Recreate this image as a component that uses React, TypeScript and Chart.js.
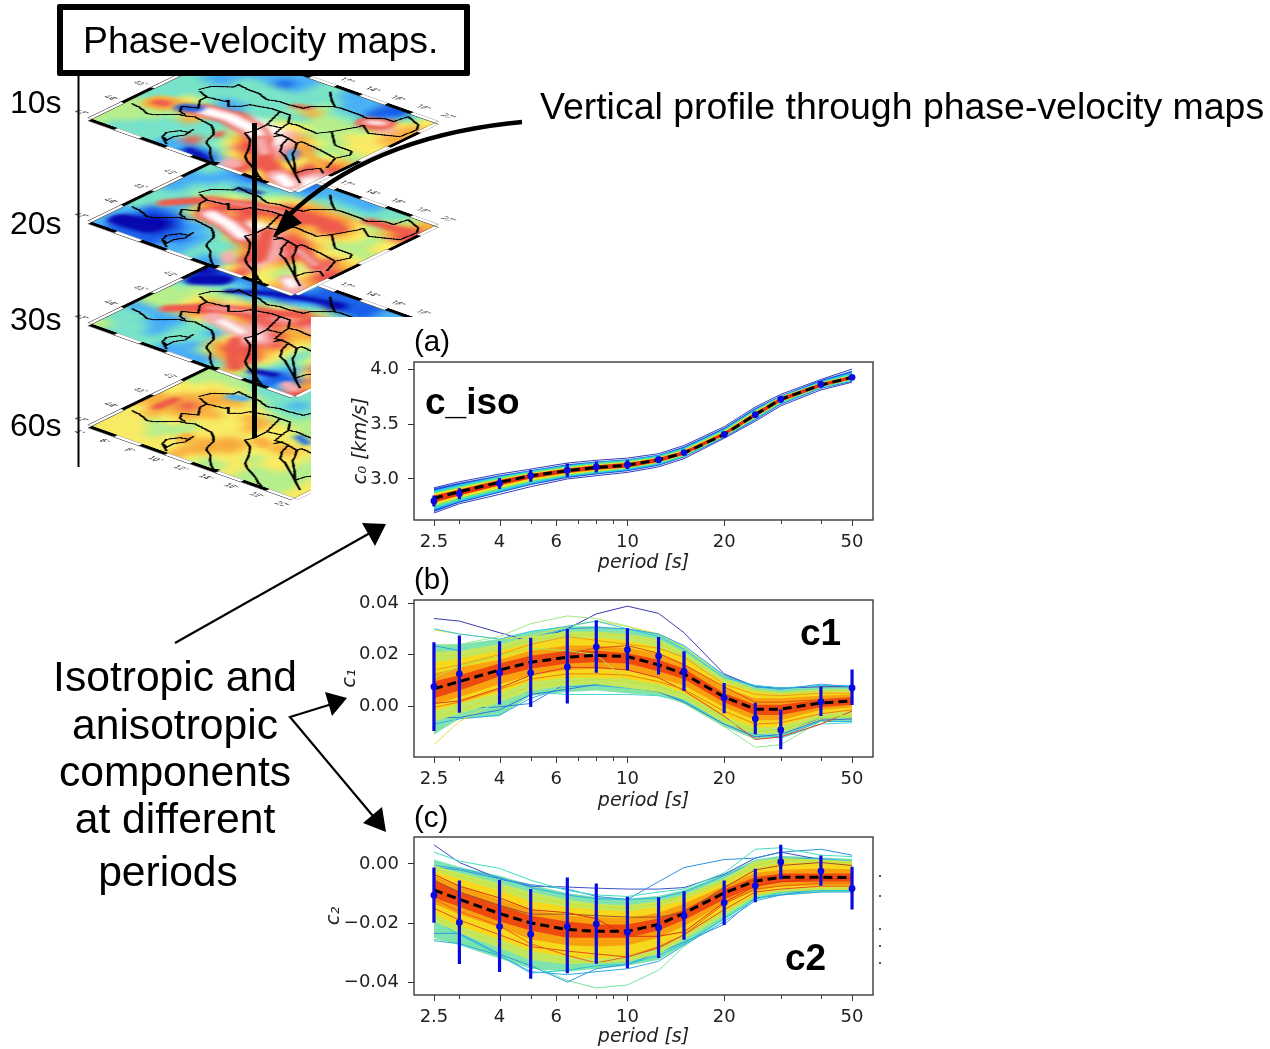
import React, { useEffect, useRef } from "react";
import { Chart, registerables } from "chart.js";
Chart.register(...registerables);

// ---------- dispersion data ----------
const PERIODS = [2.5, 3, 4, 5, 6.5, 8, 10, 12.5, 15, 20, 25, 30, 40, 50];
const PERIOD_TICKS = [2.5, 3, 4, 5, 6, 7, 8, 9, 10, 20, 30, 40, 50];
const PERIOD_LABELS = [2.5, 4, 6, 10, 20, 50];

const ISO_MEAN = [2.825, 2.885, 2.97, 3.03, 3.075, 3.105, 3.125, 3.175, 3.235, 3.405, 3.585, 3.725, 3.855, 3.925];
const ISO_DOTS = [2.8, 2.865, 2.96, 3.03, 3.08, 3.11, 3.13, 3.175, 3.24, 3.405, 3.585, 3.725, 3.86, 3.925];
const ISO_TOP = [2.85, 2.915, 3.01, 3.085, 3.14, 3.16, 3.17, 3.205, 3.26, 3.425, 3.61, 3.755, 3.88, 3.945];
const ISO_BOTTOM = [2.75, 2.815, 2.91, 2.975, 3.02, 3.06, 3.09, 3.145, 3.22, 3.385, 3.56, 3.695, 3.84, 3.905];
const ISO_BANDS = [
  { color: "#1f4fe0", up: [2.915, 2.965, 3.035, 3.08, 3.135, 3.16, 3.18, 3.22, 3.295, 3.465, 3.645, 3.76, 3.9, 3.985], lo: [2.7, 2.785, 2.875, 2.945, 3.01, 3.04, 3.07, 3.12, 3.195, 3.375, 3.535, 3.675, 3.82, 3.885] },
  { color: "#28c8e8", up: [2.895, 2.95, 3.025, 3.075, 3.125, 3.155, 3.175, 3.215, 3.285, 3.455, 3.635, 3.755, 3.89, 3.97], lo: [2.72, 2.795, 2.885, 2.955, 3.02, 3.05, 3.08, 3.13, 3.2, 3.38, 3.54, 3.68, 3.825, 3.89] },
  { color: "#60e890", up: [2.88, 2.935, 3.015, 3.065, 3.115, 3.145, 3.165, 3.205, 3.275, 3.445, 3.625, 3.75, 3.88, 3.955], lo: [2.74, 2.81, 2.9, 2.97, 3.03, 3.06, 3.09, 3.14, 3.205, 3.385, 3.55, 3.69, 3.83, 3.895] },
  { color: "#f0e020", up: [2.865, 2.92, 3.0, 3.055, 3.105, 3.135, 3.155, 3.195, 3.265, 3.435, 3.615, 3.745, 3.875, 3.945], lo: [2.76, 2.83, 2.915, 2.985, 3.04, 3.07, 3.1, 3.15, 3.215, 3.39, 3.56, 3.7, 3.84, 3.905] },
  { color: "#e83010", up: [2.85, 2.905, 2.99, 3.045, 3.095, 3.125, 3.145, 3.19, 3.255, 3.425, 3.605, 3.74, 3.87, 3.94], lo: [2.785, 2.85, 2.94, 3.005, 3.055, 3.085, 3.105, 3.155, 3.22, 3.395, 3.565, 3.705, 3.84, 3.91] },
];
const ISO_OUTER = [
  { color: "#3040b8", v: [2.69, 2.775, 2.86, 2.93, 3.0, 3.03, 3.06, 3.11, 3.185, 3.37, 3.525, 3.665, 3.81, 3.88] },
  { color: "#3040b8", v: [2.92, 2.975, 3.045, 3.09, 3.145, 3.17, 3.19, 3.23, 3.305, 3.475, 3.655, 3.77, 3.905, 4.0] },
];
const ISO_INNER: { color: string; v: number[] }[] = [];

const C1_MEAN = [0.0067, 0.0095, 0.014, 0.017, 0.019, 0.0197, 0.0192, 0.016, 0.0125, 0.0035, -0.0012, -0.0012, 0.0012, 0.002];
const C1_DOTS = [0.0075, 0.0125, 0.0129, 0.0129, 0.0152, 0.023, 0.0219, 0.0194, 0.0135, 0.0032, -0.0049, -0.0093, 0.0017, 0.007];
const C1_TOP = [0.0248, 0.0274, 0.0252, 0.0265, 0.0299, 0.0333, 0.0302, 0.0268, 0.0213, 0.009, 0.0013, -0.0013, 0.0075, 0.0142];
const C1_BOTTOM = [-0.0097, -0.0026, 0.0006, -0.0004, 0.001, 0.0129, 0.0139, 0.0123, 0.0058, -0.0028, -0.011, -0.0168, -0.0039, 0.0004];
const C1_BANDS = [
  { color: "#7fe3b0", up: [0.024, 0.024, 0.026, 0.029, 0.031, 0.031, 0.03, 0.028, 0.023, 0.012, 0.0082, 0.0072, 0.0078, 0.0078], lo: [-0.011, -0.005, -0.004, 0.004, 0.0055, 0.006, 0.005, 0.004, 0.001, -0.008, -0.013, -0.012, -0.006, -0.006] },
  { color: "#c3e860", up: [0.021, 0.0215, 0.024, 0.027, 0.029, 0.029, 0.028, 0.026, 0.021, 0.0105, 0.0065, 0.0055, 0.0065, 0.0065], lo: [-0.006, -0.003, 0.0015, 0.006, 0.008, 0.0085, 0.007, 0.0055, 0.0025, -0.0065, -0.011, -0.0105, -0.0045, -0.0045] },
  { color: "#f6d81c", up: [0.017, 0.0185, 0.0215, 0.0245, 0.0265, 0.0265, 0.0255, 0.023, 0.019, 0.009, 0.0055, 0.0045, 0.0055, 0.0055], lo: [-0.002, 0.001, 0.005, 0.0095, 0.011, 0.011, 0.0105, 0.0085, 0.005, -0.004, -0.0085, -0.008, -0.003, -0.002] },
  { color: "#f8a010", up: [0.0125, 0.015, 0.018, 0.0215, 0.0235, 0.0235, 0.0225, 0.0205, 0.0165, 0.007, 0.003, 0.003, 0.004, 0.0045], lo: [0.0005, 0.0035, 0.0085, 0.012, 0.014, 0.0145, 0.014, 0.011, 0.008, -0.0005, -0.0055, -0.0055, -0.0015, -0.0005] },
  { color: "#ee4a10", up: [0.0095, 0.012, 0.0165, 0.0195, 0.0215, 0.0215, 0.0205, 0.018, 0.0145, 0.005, 0.0005, 0.0005, 0.0025, 0.0035], lo: [0.003, 0.006, 0.0115, 0.0145, 0.0165, 0.017, 0.0165, 0.0135, 0.0105, 0.0015, -0.0035, -0.0035, -0.0005, 0.0005] },
];
const C1_OUTER = [
  { color: "#3a3ab0", v: [0.034, 0.033, 0.0285, 0.025, 0.03, 0.0358, 0.0388, 0.036, 0.0285, 0.0125, 0.0075, 0.007, 0.0075, 0.0075] },
  { color: "#e8e040", v: [0.0295, 0.028, 0.026, 0.027, 0.031, 0.033, 0.031, 0.028, 0.023, 0.011, 0.006, 0.005, 0.005, 0.005] },
  { color: "#a0e880", v: [0.023, 0.024, 0.027, 0.032, 0.035, 0.034, 0.031, 0.027, 0.022, 0.009, 0.004, 0.004, 0.005, 0.004] },
  { color: "#30c8e0", v: [0.03, 0.028, 0.026, 0.029, 0.031, 0.033, 0.03, 0.027, 0.022, 0.011, 0.008, 0.007, 0.008, 0.008] },
  { color: "#30b0e8", v: [-0.007, -0.005, -0.0035, 0.003, 0.0075, 0.008, 0.007, 0.006, 0.002, -0.006, -0.011, -0.012, -0.006, -0.006] },
  { color: "#3080d8", v: [-0.002, -0.001, -0.0003, 0.001, 0.009, 0.0095, 0.009, 0.007, 0.0035, -0.005, -0.01, -0.0095, -0.005, -0.005] },
  { color: "#e8e040", v: [-0.015, -0.006, 0.002, 0.006, 0.0085, 0.009, 0.008, 0.007, 0.004, -0.004, -0.009, -0.011, -0.005, -0.005] },
  { color: "#40d8d0", v: [0.002, 0.003, 0.004, 0.0055, 0.0045, 0.0045, 0.0045, 0.004, 0.002, -0.006, -0.011, -0.0125, -0.007, -0.0065] },
  { color: "#90e890", v: [-0.011, -0.004, 0.001, 0.005, 0.007, 0.0065, 0.006, 0.005, 0.001, -0.008, -0.016, -0.015, -0.006, -0.004] },
  { color: "#30a0e8", v: [0.0235, 0.0215, 0.0225, 0.0265, 0.03, 0.0305, 0.03, 0.028, 0.0235, 0.012, 0.0075, 0.0065, 0.0085, 0.0075] },
  { color: "#3078d8", v: [-0.0045, -0.0045, -0.0015, 0.0045, 0.0065, 0.0085, 0.0075, 0.0055, 0.0015, -0.007, -0.012, -0.011, -0.0055, -0.005] },
];
const C1_INNER = [
  { color: "#e04020", v: [0.001, 0.002, 0.007, 0.012, 0.015, 0.015, 0.014, 0.011, 0.006, -0.004, -0.013, -0.012, -0.007, -0.002] },
  { color: "#e8a020", v: [0.014, 0.016, 0.02, 0.024, 0.027, 0.0255, 0.024, 0.0225, 0.019, 0.0085, 0.0045, 0.004, 0.005, 0.005] },
  { color: "#c8e040", v: [0.0195, 0.0195, 0.022, 0.0255, 0.0275, 0.028, 0.0275, 0.0245, 0.0195, 0.01, 0.006, 0.005, 0.006, 0.006] },
  { color: "#e05018", v: [0.0045, 0.0085, 0.014, 0.0185, 0.0205, 0.0225, 0.0235, 0.0205, 0.016, 0.0075, 0.0015, 0.0015, 0.0025, 0.003] },
  { color: "#f08010", v: [-0.0005, 0.0015, 0.0065, 0.0105, 0.0125, 0.0125, 0.012, 0.0095, 0.0065, -0.002, -0.007, -0.0065, -0.003, -0.0015] },
  { color: "#a8e850", v: [0.011, 0.0155, 0.0195, 0.0225, 0.0215, 0.02, 0.0095, 0.0075, 0.0045, -0.005, -0.0095, -0.009, -0.0045, -0.004] },
  { color: "#c8e040", v: [-0.004, -0.0015, 0.0035, 0.0075, 0.0095, 0.0105, 0.0095, 0.0075, 0.0035, -0.0055, -0.01, -0.0095, -0.004, -0.0035] },
];

const C2_MEAN = [-0.0088, -0.012, -0.0168, -0.02, -0.0222, -0.0228, -0.0228, -0.0205, -0.0167, -0.0098, -0.0058, -0.0045, -0.0045, -0.0046];
const C2_DOTS = [-0.0106, -0.0198, -0.0212, -0.0238, -0.0212, -0.0203, -0.0231, -0.0216, -0.0175, -0.0131, -0.0074, 0.0007, -0.0024, -0.0083];
const C2_TOP = [-0.0012, -0.0056, -0.0054, -0.0085, -0.0046, -0.0066, -0.0111, -0.0113, -0.0092, -0.0056, -0.0016, 0.0065, 0.0029, -0.0009];
const C2_BOTTOM = [-0.0199, -0.0339, -0.0366, -0.0389, -0.037, -0.0338, -0.0353, -0.0319, -0.0257, -0.0207, -0.013, -0.0052, -0.0074, -0.0154];
const C2_BANDS = [
  { color: "#7fe3b0", up: [0.0015, -0.001, -0.004, -0.007, -0.0098, -0.0112, -0.0118, -0.0108, -0.0088, -0.0035, 0.0015, 0.0028, 0.0022, 0.0018], lo: [-0.025, -0.0275, -0.032, -0.0355, -0.0365, -0.0355, -0.0345, -0.0325, -0.0275, -0.019, -0.012, -0.0105, -0.0095, -0.0095] },
  { color: "#c3e860", up: [-0.0005, -0.003, -0.0065, -0.0095, -0.012, -0.0135, -0.014, -0.0125, -0.0105, -0.005, 0.001, 0.002, 0.0015, 0.001], lo: [-0.0195, -0.0235, -0.0285, -0.0325, -0.034, -0.0335, -0.033, -0.0305, -0.0255, -0.0175, -0.011, -0.0095, -0.0088, -0.0088] },
  { color: "#f6d81c", up: [-0.0025, -0.005, -0.009, -0.0125, -0.0145, -0.0155, -0.016, -0.0145, -0.012, -0.0065, -0.0015, 0.0005, 0.0005, 0], lo: [-0.017, -0.021, -0.0255, -0.0295, -0.0315, -0.032, -0.0315, -0.0285, -0.024, -0.016, -0.0105, -0.0085, -0.008, -0.008] },
  { color: "#f8a010", up: [-0.004, -0.0075, -0.012, -0.0155, -0.0175, -0.018, -0.0185, -0.0165, -0.0135, -0.0075, -0.003, -0.002, -0.0015, -0.0018], lo: [-0.0135, -0.017, -0.0215, -0.0255, -0.0275, -0.028, -0.0275, -0.025, -0.021, -0.0135, -0.009, -0.0075, -0.0072, -0.0072] },
  { color: "#ee4a10", up: [-0.0055, -0.0095, -0.014, -0.0175, -0.0195, -0.0205, -0.0205, -0.0185, -0.0155, -0.0085, -0.0045, -0.0032, -0.0032, -0.0032], lo: [-0.0115, -0.0145, -0.0195, -0.0225, -0.025, -0.025, -0.025, -0.0225, -0.019, -0.012, -0.0075, -0.0062, -0.006, -0.006] },
];
const C2_OUTER = [
  { color: "#3a50c8", v: [0.0065, 0.0005, -0.005, -0.0075, -0.0078, -0.0082, -0.0085, -0.0085, -0.008, -0.0035, 0.002, 0.004, 0.0015, 0.0005] },
  { color: "#3090e0", v: [-0.001, -0.002, -0.005, -0.007, -0.0085, -0.011, -0.012, -0.006, -0.0012, 0.0015, 0.002, 0.004, 0.005, 0.003] },
  { color: "#40e0c0", v: [0.004, 0.001, -0.0015, -0.0055, -0.009, -0.0105, -0.011, -0.0095, -0.0085, -0.003, 0.005, 0.0055, 0.003, 0.0025] },
  { color: "#70e8a0", v: [-0.0255, -0.0265, -0.0295, -0.034, -0.0395, -0.042, -0.041, -0.036, -0.028, -0.018, -0.011, -0.0105, -0.0095, -0.009] },
  { color: "#30a8e8", v: [-0.026, -0.027, -0.031, -0.0365, -0.0375, -0.0365, -0.0355, -0.033, -0.0275, -0.0195, -0.0125, -0.0105, -0.0095, -0.0095] },
  { color: "#3098e0", v: [-0.0235, -0.0235, -0.0305, -0.0345, -0.04, -0.0355, -0.034, -0.03, -0.0265, -0.0205, -0.0115, -0.0105, -0.0085, -0.0085] },
  { color: "#28c8d8", v: [-0.019, -0.024, -0.031, -0.037, -0.036, -0.0345, -0.034, -0.031, -0.027, -0.0185, -0.012, -0.0095, -0.009, -0.009] },
  { color: "#30b0e8", v: [-0.0005, -0.0015, -0.0045, -0.008, -0.0105, -0.0118, -0.012, -0.0115, -0.0095, -0.004, 0.0005, 0.002, 0.0018, 0.001] },
];
const C2_INNER = [
  { color: "#a05030", v: [-0.0055, -0.0095, -0.014, -0.017, -0.017, -0.0175, -0.018, -0.018, -0.0165, -0.008, -0.002, -0.0005, 0.0005, -0.0005] },
  { color: "#e05020", v: [-0.015, -0.019, -0.024, -0.028, -0.0295, -0.0305, -0.0315, -0.0285, -0.024, -0.0155, -0.0095, -0.0085, -0.0075, -0.0075] },
  { color: "#e03010", v: [-0.0035, -0.0075, -0.0115, -0.0155, -0.0165, -0.0185, -0.0245, -0.0245, -0.023, -0.013, -0.0075, -0.006, -0.005, -0.005] },
  { color: "#f06010", v: [-0.012, -0.016, -0.021, -0.027, -0.031, -0.0335, -0.0315, -0.028, -0.024, -0.0135, -0.0085, -0.0075, -0.0065, -0.0065] },
  { color: "#d0e020", v: [-0.002, -0.004, -0.008, -0.011, -0.0135, -0.0145, -0.015, -0.0135, -0.011, -0.006, -0.0005, 0.0015, 0.001, 0.0005] },
  { color: "#c8e040", v: [-0.018, -0.022, -0.027, -0.03, -0.033, -0.0335, -0.033, -0.0295, -0.0245, -0.0165, -0.0105, -0.009, -0.0085, -0.0085] },
];

// ---------- map data: lon/lat polylines ----------
const COASTLINE = [[4.37, 44.15], [5.0, 44.1], [5.53, 43.95], [6.0, 43.8], [6.39, 43.88], [7.07, 44.31], [7.49, 44.62], [8.0, 44.7], [8.5, 44.88], [9.43, 44.76], [10.0, 44.68], [10.53, 44.39], [11.0, 44.0], [11.17, 43.55], [11.3, 43.3], [11.54, 43.08], [12.1, 42.85], [12.63, 42.38], [13.1, 42.05], [13.56, 41.8], [13.96, 41.91]];
const CORSICA = [[9.78, 41.89], [8.86, 42.38], [8.65, 42.85], [9.1, 43.36], [9.67, 43.49], [9.74, 43.16], [9.36, 42.7], [9.37, 42.24], [8.86, 42.38]];
const CORSICA_CAPE = [[9.67, 43.49], [9.58, 43.85]];
const BORDER_NORTH = [[6.09, 47.16], [6.39, 47.8], [7.44, 48.36], [7.44, 48.69], [8.37, 48.58], [9.14, 48.59], [10.14, 48.3], [10.94, 48.52], [11.7, 48.53], [12.62, 48.64], [12.77, 48.97], [13.91, 49.67]];
const BORDER_ALPS_W = [[6.32, 47.07], [7.16, 46.81], [7.17, 46.35], [7.81, 45.69], [6.9, 45.35], [7.29, 44.91], [7.83, 44.78]];
const BORDER_ALPS_C = [[7.16, 46.81], [8.4, 46.98], [8.46, 47.16], [9.02, 46.68], [9.63, 47.06], [9.85, 47.42], [10.49, 47.55], [11.11, 47.7], [11.87, 47.72], [12.64, 47.73], [13.35, 47.02], [13.88, 47.12], [15.58, 47.02], [16.1, 47.58], [16.92, 48.79], [16.92, 49.01]];
const BORDER_EAST = [[12.28, 50.73], [13.13, 50.11], [13.91, 49.67], [14.75, 49.74], [15.83, 49.72], [16.45, 49.64], [17.2, 50.11], [17.97, 50.13], [18.19, 50.95], [19.42, 50.57], [19.82, 50.13], [19.68, 49.12], [18.77, 48.78], [17.93, 48.49], [16.92, 49.01]];
const COAST_ITALY_E = [[17.4, 41.8], [16.95, 41.94], [16.3, 42.3], [15.71, 42.55], [15.0, 42.85], [14.47, 43.16], [14.0, 43.78], [13.6, 44.2], [13.13, 44.63], [12.28, 45.02], [12.5, 45.39], [12.49, 46.3], [11.87, 47.72]];
const COAST_TRIESTE = [[12.49, 46.3], [13.48, 46.46], [13.71, 45.82], [14.2, 45.85], [13.91, 45.53], [14.14, 45.9], [14.75, 45.82], [15.6, 45.66], [15.67, 45.93], [17.29, 45.79], [18.76, 45.55]];
const BORDER_SLOVENIA = [[13.48, 46.46], [13.35, 47.02]];
const COAST_DALMATIA = [[14.75, 45.82], [15.08, 45.1], [15.35, 44.85], [15.63, 44.52], [16.2, 44.35], [16.94, 43.96], [17.6, 43.6], [18.34, 43.21], [18.9, 42.9], [19.51, 42.56]];
const BORDER_BOSNIA = [[15.6, 45.66], [16.15, 45.08], [16.4, 44.7], [16.86, 44.37], [17.5, 43.9], [18.34, 43.21]];
const BORDER_SERBIA = [[18.34, 43.21], [18.48, 43.77], [19.01, 44.32], [19.63, 44.02]];
const BORDER_HUNGARY = [[16.1, 47.58], [17.5, 46.61], [18.89, 46.55], [19.13, 46.24], [18.76, 45.55], [19.31, 44.51]];
const MAP_LINES = [COASTLINE, CORSICA, CORSICA_CAPE, BORDER_NORTH, BORDER_ALPS_W, BORDER_ALPS_C, BORDER_EAST, COAST_ITALY_E, COAST_TRIESTE, BORDER_SLOVENIA, COAST_DALMATIA, BORDER_BOSNIA, BORDER_SERBIA, BORDER_HUNGARY];

// map levels, rows run from the south to the north, columns from west to east
const LEVELS = ["#0808b0", "#1c62e8", "#48b0f4", "#78e2c8", "#b6ee8c", "#f8ea64", "#f8b040", "#ee5a4c", "#f6aeb0", "#ffffff"];
const MAP_10S = [
  [4, 3, 3, 3, 3, 2, 2, 1, 1, 2, 8, 7, 5, 6, 8, 9],
  [4, 4, 3, 3, 3, 3, 7, 3, 3, 5, 6, 7, 7, 6, 7, 9],
  [4, 4, 4, 3, 3, 3, 3, 3, 5, 7, 7, 8, 6, 5, 7, 8],
  [4, 4, 4, 4, 6, 3, 3, 4, 6, 7, 8, 8, 7, 5, 7, 7],
  [3, 4, 6, 7, 5, 3, 3, 8, 9, 9, 9, 8, 7, 4, 5, 6],
  [3, 3, 5, 4, 3, 2, 7, 9, 9, 9, 8, 6, 5, 4, 4, 4],
  [3, 3, 3, 3, 2, 2, 3, 3, 4, 5, 5, 4, 4, 4, 5, 5],
  [3, 3, 3, 3, 3, 3, 3, 3, 3, 3, 4, 4, 4, 5, 5, 5],
  [3, 2, 2, 3, 3, 3, 3, 3, 4, 6, 4, 4, 4, 4, 5, 6],
  [2, 2, 2, 3, 3, 3, 3, 3, 3, 4, 3, 3, 3, 7, 8, 6],
  [3, 3, 2, 2, 2, 1, 2, 3, 3, 3, 2, 2, 1, 2, 5, 6],
  [3, 2, 2, 2, 2, 2, 2, 3, 3, 2, 2, 2, 1, 1, 3, 5],
];
const MAP_20S = [
  [2, 1, 1, 1, 1, 2, 2, 3, 2, 2, 5, 7, 5, 5, 6, 8],
  [2, 0, 0, 0, 1, 1, 2, 3, 3, 4, 7, 8, 5, 4, 5, 6],
  [2, 1, 0, 0, 1, 2, 2, 3, 3, 6, 7, 8, 6, 4, 5, 7],
  [3, 1, 1, 1, 2, 2, 3, 4, 6, 7, 8, 8, 7, 5, 8, 7],
  [3, 3, 2, 4, 6, 4, 4, 7, 9, 9, 8, 7, 7, 5, 7, 6],
  [3, 3, 2, 6, 7, 5, 7, 9, 9, 8, 7, 7, 6, 5, 5, 5],
  [2, 3, 4, 6, 7, 7, 7, 6, 6, 6, 6, 5, 5, 4, 4, 4],
  [2, 3, 3, 4, 5, 7, 7, 7, 7, 7, 6, 7, 6, 5, 4, 5],
  [2, 2, 3, 3, 3, 4, 5, 7, 7, 7, 7, 7, 6, 5, 4, 5],
  [3, 2, 2, 2, 3, 3, 4, 5, 6, 6, 6, 6, 5, 4, 6, 7],
  [3, 2, 1, 1, 1, 2, 2, 2, 3, 3, 3, 3, 3, 4, 6, 7],
  [3, 2, 1, 2, 2, 2, 1, 2, 2, 2, 2, 2, 3, 3, 4, 6],
];
const MAP_30S = [
  [4, 3, 3, 3, 3, 2, 2, 2, 2, 3, 6, 4, 2, 1, 2, 7],
  [3, 3, 3, 2, 3, 3, 2, 4, 6, 6, 7, 4, 2, 1, 1, 6],
  [3, 3, 2, 2, 3, 3, 3, 6, 7, 7, 7, 5, 3, 2, 5, 7],
  [2, 2, 2, 2, 3, 3, 2, 5, 8, 7, 6, 5, 3, 4, 7, 7],
  [4, 4, 4, 6, 5, 3, 4, 8, 9, 8, 7, 5, 3, 5, 7, 7],
  [4, 4, 5, 7, 7, 5, 6, 8, 8, 7, 6, 5, 4, 5, 6, 6],
  [4, 4, 5, 6, 8, 7, 7, 7, 7, 6, 6, 6, 5, 5, 5, 5],
  [3, 4, 4, 4, 5, 6, 7, 8, 8, 7, 8, 7, 7, 6, 5, 5],
  [1, 2, 3, 3, 2, 3, 4, 5, 6, 7, 7, 7, 6, 5, 4, 4],
  [0, 1, 2, 2, 1, 1, 1, 2, 3, 4, 3, 3, 3, 3, 3, 3],
  [1, 1, 1, 1, 1, 1, 1, 1, 1, 0, 1, 1, 2, 2, 2, 2],
  [3, 2, 1, 1, 2, 2, 2, 1, 1, 1, 1, 1, 2, 2, 2, 2],
];
const MAP_60S = [
  [5, 5, 5, 5, 5, 5, 6, 5, 4, 4, 5, 4, 4, 4, 4, 5],
  [5, 5, 5, 4, 5, 5, 6, 6, 5, 5, 5, 4, 4, 4, 4, 5],
  [5, 5, 4, 4, 4, 5, 6, 6, 6, 5, 4, 5, 5, 4, 4, 5],
  [5, 6, 5, 5, 4, 5, 5, 6, 6, 5, 5, 5, 5, 4, 4, 5],
  [6, 6, 6, 6, 5, 5, 5, 5, 5, 5, 6, 6, 5, 4, 4, 5],
  [6, 6, 7, 6, 6, 5, 5, 6, 5, 5, 5, 5, 5, 3, 3, 4],
  [5, 6, 6, 6, 5, 5, 6, 6, 5, 5, 4, 4, 4, 3, 2, 4],
  [5, 5, 6, 6, 6, 5, 5, 4, 4, 4, 4, 4, 4, 4, 3, 4],
  [4, 5, 5, 5, 5, 4, 3, 3, 3, 4, 4, 4, 5, 4, 4, 5],
  [4, 4, 4, 4, 3, 3, 3, 2, 3, 3, 3, 4, 4, 3, 3, 4],
  [4, 4, 4, 3, 3, 3, 3, 3, 3, 3, 3, 3, 3, 3, 3, 4],
  [4, 4, 3, 3, 3, 3, 3, 3, 3, 3, 3, 3, 3, 3, 3, 4],
];
// narrow anomalies along [lon, lat] paths: level, width in chart pixels, path
type Ridge = [number, number, number[][]];
const RIDGES_10S: Ridge[] = [
  [7, 44, [[8.2, 45.65], [10.1, 45.84], [12.2, 45.56], [13.6, 44.9]]],
  [8, 32, [[8.2, 45.65], [10.1, 45.84], [12.2, 45.56], [13.6, 44.9]]],
  [9, 22, [[8.4, 45.65], [10.1, 45.84], [12.2, 45.56], [13.2, 45.1]]],
  [7, 30, [[13.6, 44.9], [16, 43.3], [18.1, 42.4], [19.2, 42.2]]],
  [8, 20, [[13.6, 44.9], [15, 44]]],
  [8, 34, [[17.6, 42.6], [19.2, 42.2]]],
  [9, 22, [[18, 42.5], [19.1, 42.15]]],
  [8, 22, [[14.2, 42.3], [14.8, 42.2]]],
  [7, 16, [[11.15, 44.3], [11.3, 44.05]]],
  [6, 50, [[5.4, 45], [5.9, 45.1]]],
  [7, 22, [[5.4, 45], [5.9, 45.1]]],
  [1, 26, [[7, 45.3], [7.8, 45.6]]],
  [7, 38, [[16.8, 49.35], [17.8, 49.7]]],
  [8, 18, [[16.8, 49.35], [17.8, 49.7]]],
  [9, 9, [[17, 49.45], [17.6, 49.65]]],
  [7, 14, [[12, 48.6], [12.9, 48.8]]],
  [6, 18, [[15.9, 45.6], [19.1, 44.4]]],
  [2, 18, [[16.2, 44.9], [16.8, 44.2]]],
  [0, 14, [[11.2, 42.1], [13.1, 41.85]]],
];
const RIDGES_20S: Ridge[] = [
  [7, 42, [[8.45, 45.8], [10.4, 45.5], [12.4, 44.9]]],
  [8, 30, [[8.45, 45.8], [10.4, 45.5], [12.4, 44.9]]],
  [9, 20, [[8.7, 45.8], [10.4, 45.5], [12.2, 44.95]]],
  [7, 26, [[5.5, 45.4], [7.1, 46.8], [9.4, 47.5], [12, 48], [14.3, 48.2], [16, 48.2]]],
  [8, 7, [[7.1, 46.8], [9.4, 47.5], [12, 48]]],
  [7, 22, [[16.5, 49.7], [19.2, 49.9]]],
  [7, 26, [[15.7, 45.6], [18.5, 44.6]]],
  [8, 12, [[16, 45.4], [18.2, 44.7]]],
  [7, 30, [[12.9, 46], [14.1, 44.6], [15, 43.5]]],
  [8, 22, [[13.2, 43.1], [13.8, 42.6]]],
  [8, 30, [[18.2, 42.8], [19.3, 42.4]]],
  [9, 18, [[18.4, 42.7], [19.1, 42.4]]],
  [0, 40, [[5, 42.8], [7, 43]]],
  [0, 10, [[7.5, 48.6], [9, 48.9]]],
];
const RIDGES_30S: Ridge[] = [
  [0, 38, [[4.6, 48.3], [5.8, 49]]],
  [0, 16, [[7.1, 48.3], [9.3, 49.3], [11.8, 50], [13.6, 50.3]]],
  [7, 28, [[6, 45.2], [7.7, 46.4], [10.5, 47.4], [12.7, 48.5]]],
  [8, 10, [[7.7, 46.4], [10.5, 47.4]]],
  [8, 34, [[8.8, 45.75], [12, 45.4]]],
  [9, 14, [[9.6, 45.7], [11.6, 45.4]]],
  [7, 24, [[12, 44.6], [13.8, 42.9], [14.6, 42.4]]],
  [0, 18, [[15.7, 42.6], [17.1, 42.9]]],
  [8, 24, [[18.5, 42.5], [19.3, 42.3]]],
];
const RIDGES_60S: Ridge[] = [
  [7, 22, [[5.2, 45.2], [5.3, 46.2]]],
  [2, 22, [[7.6, 48.1], [8.4, 48.3]]],
  [1, 14, [[14.4, 46.8], [15.4, 46.5]]],
  [6, 30, [[9.3, 43.6], [9.6, 43.4]]],
  [6, 26, [[13, 45.4], [13.6, 45.2]]],
];
const LON_MIN = 4, LON_MAX = 20, LAT_MIN = 41.8, LAT_MAX = 51.2;
const LON_FRAME = [4, 6, 8, 10, 12, 14, 16, 18, 20];
const LAT_FRAME = [41.8, 44, 46, 48, 50, 51.2];
const LAT_LABELS = [42, 44, 46, 48];
const LON_TOP_LABELS = [12, 14, 16, 18, 20];
const CLIPPED_MARKS_Y = [875, 895, 928, 945, 962];

const UI = '"Liberation Sans", Arial, sans-serif';
const MPL = '"DejaVu Sans", sans-serif';

function hexRgb(h: string) {
  return [1, 3, 5].map((i) => parseInt(h.slice(i, i + 2), 16));
}

const framePlugin = {
  id: "boxFrame",
  afterDraw(chart: any) {
    const { ctx, chartArea: a, scales } = chart;
    ctx.save();
    ctx.strokeStyle = "#3a3a3a";
    ctx.lineWidth = 1.4;
    ctx.strokeRect(a.left, a.top, a.right - a.left, a.bottom - a.top);
    ctx.lineWidth = 1;
    ctx.beginPath();
    PERIOD_TICKS.forEach((t) => {
      const x = Math.round(scales.x.getPixelForValue(t)) + 0.5;
      ctx.moveTo(x, a.bottom);
      ctx.lineTo(x, a.bottom + (PERIOD_LABELS.includes(t) ? 6 : 4));
    });
    ctx.stroke();
    ctx.restore();
  },
};

type PanelProps = {
  top: number; height: number; plotTop: number; plotBottom: number;
  yMin: number; yMax: number; yTicks: number[]; yDigits: number;
  yTitle: string; yTitleOffset: number;
  mean: number[]; dots: number[]; tops: number[]; bottoms: number[];
  bands: { color: string; up: number[]; lo: number[] }[];
  outer: { color: string; v: number[] }[]; inner: { color: string; v: number[] }[];
};

function Panel(p: PanelProps) {
  const ref = useRef<HTMLCanvasElement>(null);
  useEffect(() => {
    const series = (v: number[]) => v.map((y, i) => ({ x: PERIODS[i], y }));
    const ds: any[] = [];
    const line = (data: any[], color: string, width: number) => ds.push({ data, borderColor: color, borderWidth: width, pointRadius: 0, fill: false, tension: 0 });
    const addBand = (b: { color: string; up: number[]; lo: number[] }) => {
      ds.push({ data: series(b.lo), borderWidth: 0, pointRadius: 0, borderColor: "transparent", fill: false });
      ds.push({ data: series(b.up), borderWidth: 0, pointRadius: 0, borderColor: "transparent", backgroundColor: b.color, fill: { target: ds.length - 1 } });
    };
    addBand(p.bands[0]);
    p.outer.forEach((l) => line(series(l.v), l.color, 1));
    p.bands.slice(1).forEach(addBand);
    p.inner.forEach((l) => line(series(l.v), l.color, 1));
    ds.push({ data: series(p.mean), borderColor: "#000", borderWidth: 3, borderDash: [9, 5], pointRadius: 0, fill: false });
    const bars: any[] = [];
    PERIODS.forEach((x, i) => bars.push({ x, y: p.bottoms[i] }, { x, y: p.tops[i] }, { x, y: NaN }));
    ds.push({ data: bars, borderColor: "#0a0ae0", borderWidth: 3.2, pointRadius: 0, spanGaps: false, fill: false });
    ds.push({ data: series(p.dots), showLine: false, pointRadius: 3.4, pointBackgroundColor: "#0a0ae0", pointBorderWidth: 0 });
    ds.forEach((d, i) => (d.order = ds.length - i));

    const chart = new Chart(ref.current!, {
      type: "line",
      data: { datasets: ds },
      plugins: [framePlugin],
      options: {
        animation: false, responsive: false, events: [],
        layout: { padding: { top: p.plotTop - p.top, right: 17, left: 0, bottom: 0 } },
        plugins: { legend: { display: false }, tooltip: { enabled: false } },
        scales: {
          x: {
            type: "logarithmic", min: 2.167, max: 58.1,
            afterBuildTicks: (s: any) => { s.ticks = PERIOD_TICKS.map((value) => ({ value })); },
            afterFit: (s: any) => { s.height = p.top + p.height - p.plotBottom; s.paddingLeft = 0; s.paddingRight = 0; },
            ticks: {
              autoSkip: false, maxRotation: 0, minRotation: 0, padding: 12, color: "#222",
              font: { family: MPL, size: 18 },
              callback: (v: any) => (PERIOD_LABELS.includes(Number(v)) ? String(v) : ""),
            },
            grid: { drawOnChartArea: false, drawTicks: false },
            border: { display: false },
            title: { display: true, text: "period [s]", color: "#222", font: { family: MPL, size: 19, style: "italic" }, padding: { top: 0, bottom: 1 } },
          },
          y: {
            type: "linear", min: p.yMin, max: p.yMax,
            afterBuildTicks: (s: any) => { s.ticks = p.yTicks.map((value) => ({ value })); },
            afterFit: (s: any) => { s.width = 94; s.paddingTop = 0; s.paddingBottom = 0; },
            ticks: {
              padding: 9, color: "#222", font: { family: MPL, size: 18 },
              callback: (v: any) => Number(v).toFixed(p.yDigits).replace("-", "\u2212"),
            },
            grid: { drawOnChartArea: false, drawTicks: true, tickLength: 6, color: "#333" },
            border: { display: false },
            title: { display: true, text: p.yTitle, color: "#222", font: { family: MPL, size: 19.5, style: "italic" }, padding: { top: p.yTitleOffset, bottom: 0 } },
          },
        },
      } as any,
    });
    return () => chart.destroy();
  }, []);
  return <canvas ref={ref} width={570} height={p.height} style={{ position: "absolute", left: 320, top: p.top, width: 570, height: p.height }} />;
}

function heatPlugin(matrix: number[][], ridges: Ridge[]) {
  return {
    id: "heat",
    beforeDatasetsDraw(chart: any) {
      const { ctx, chartArea: a, scales } = chart;
      const rows = matrix.length, cols = matrix[0].length;
      const off = document.createElement("canvas");
      off.width = cols; off.height = rows;
      const octx = off.getContext("2d")!;
      const img = octx.createImageData(cols, rows);
      matrix.forEach((r, j) => r.forEach((lv, i) => {
        const [R, G, B] = hexRgb(LEVELS[lv]);
        const k = ((rows - 1 - j) * cols + i) * 4;
        img.data[k] = R; img.data[k + 1] = G; img.data[k + 2] = B; img.data[k + 3] = 255;
      }));
      octx.putImageData(img, 0, 0);
      ctx.save();
      ctx.beginPath();
      ctx.rect(a.left, a.top, a.right - a.left, a.bottom - a.top);
      ctx.clip();
      ctx.imageSmoothingEnabled = true;
      ctx.imageSmoothingQuality = "high";
      ctx.drawImage(off, a.left, a.top, a.right - a.left, a.bottom - a.top);
      ctx.lineCap = "round";
      ctx.lineJoin = "round";
      (ctx as any).filter = "blur(11px)";
      ridges.forEach(([lv, w, path]) => {
        ctx.strokeStyle = LEVELS[lv];
        ctx.lineWidth = w;
        ctx.beginPath();
        path.forEach(([lon, lat], i) => {
          const x = scales.x.getPixelForValue(lon), y = scales.y.getPixelForValue(lat);
          if (i) ctx.lineTo(x, y); else ctx.moveTo(x, y);
        });
        ctx.stroke();
      });
      ctx.restore();
    },
    afterDatasetsDraw(chart: any) {
      const { ctx, chartArea: a, scales } = chart;
      const band = 9;
      ctx.save();
      const seg = (x: number, y: number, w: number, h: number, dark: boolean) => {
        ctx.fillStyle = dark ? "#000" : "#fff";
        ctx.fillRect(x, y, w, h);
        if (!dark) { ctx.strokeStyle = "#666"; ctx.lineWidth = 1.5; ctx.strokeRect(x, y, w, h); }
      };
      for (let i = 0; i < LON_FRAME.length - 1; i++) {
        const x0 = scales.x.getPixelForValue(LON_FRAME[i]), x1 = scales.x.getPixelForValue(LON_FRAME[i + 1]);
        seg(x0, a.bottom, x1 - x0, band, i % 2 === 0);
        seg(x0, a.top - band, x1 - x0, band, i % 2 === 0);
      }
      for (let i = 0; i < LAT_FRAME.length - 1; i++) {
        const y0 = scales.y.getPixelForValue(LAT_FRAME[i]), y1 = scales.y.getPixelForValue(LAT_FRAME[i + 1]);
        seg(a.left - band, y1, band, y0 - y1, i % 2 === 1);
        seg(a.right, y1, band, y0 - y1, i % 2 === 1);
      }
      ctx.restore();
    },
  };
}

function MapLayer({ matrix, ridges, corner, bottomLabels }: { matrix: number[][]; ridges: Ridge[]; corner: [number, number]; bottomLabels: boolean }) {
  const ref = useRef<HTMLCanvasElement>(null);
  useEffect(() => {
    const tickFont = { family: UI, size: 18 };
    const chart = new Chart(ref.current!, {
      type: "scatter",
      data: {
        datasets: MAP_LINES.map((l) => ({
          data: l.map(([x, y]) => ({ x, y })), showLine: true, pointRadius: 0,
          borderColor: "#000", borderWidth: 4, tension: 0, clip: false,
        })),
      },
      plugins: [heatPlugin(matrix, ridges)],
      options: {
        animation: false, responsive: false, events: [], devicePixelRatio: 2,
        layout: { padding: { left: 0, right: 50, top: 0, bottom: 0 } },
        plugins: { legend: { display: false }, tooltip: { enabled: false } },
        scales: {
          x: {
            type: "linear", min: LON_MIN, max: LON_MAX,
            afterBuildTicks: (s: any) => { s.ticks = LON_FRAME.map((value) => ({ value })); },
            afterFit: (s: any) => { s.height = 40; s.paddingLeft = 0; s.paddingRight = 0; },
            grid: { display: false }, border: { display: false },
            ticks: { autoSkip: false, maxRotation: 0, padding: 11, color: "#444", font: tickFont, callback: (v: any) => (bottomLabels ? `${v}\u00b0` : "") },
          },
          x2: {
            type: "linear", axis: "x", position: "top", min: LON_MIN, max: LON_MAX,
            afterBuildTicks: (s: any) => { s.ticks = LON_TOP_LABELS.map((value) => ({ value })); },
            afterFit: (s: any) => { s.height = 40; s.paddingLeft = 0; s.paddingRight = 0; },
            grid: { display: false }, border: { display: false },
            ticks: { autoSkip: false, maxRotation: 0, padding: 11, color: "#444", font: tickFont, callback: (v: any) => `${v}\u00b0` },
          },
          y: {
            type: "linear", min: LAT_MIN, max: LAT_MAX,
            afterBuildTicks: (s: any) => { s.ticks = LAT_LABELS.map((value) => ({ value })); },
            afterFit: (s: any) => { s.width = 50; s.paddingTop = 0; s.paddingBottom = 0; },
            grid: { display: false }, border: { display: false },
            ticks: { padding: 11, color: "#444", font: tickFont, callback: (v: any) => `${v}\u00b0` },
          },
        },
      } as any,
    });
    // the map is tilted like the original perspective view
    const a = chart.chartArea;
    const w = a.right - a.left, h = a.bottom - a.top;
    const m11 = 203 / w, m12 = 72 / w, m21 = -140 / h, m22 = 68 / h;
    const e = corner[0] - m11 * a.left - m21 * a.bottom;
    const f = corner[1] - m12 * a.left - m22 * a.bottom;
    ref.current!.style.transform = `matrix(${m11},${m12},${m21},${m22},${e},${f})`;
    return () => chart.destroy();
  }, []);
  return <canvas ref={ref} width={580} height={400} style={{ position: "absolute", left: 0, top: 0, width: 580, height: 400, transformOrigin: "0 0" }} />;
}

const text = (s: string, left: number, cy: number, size: number, extra: any = {}) => (
  <div style={{ position: "absolute", left, top: cy - size, height: size * 2, lineHeight: `${size * 2}px`, fontSize: size, fontFamily: UI, color: "#000", whiteSpace: "nowrap", ...extra }}>{s}</div>
);
const centered = (s: string, cx: number, cy: number, size: number) => text(s, cx - 200, cy, size, { width: 400, textAlign: "center" });

export default function App() {
  return (
    <div style={{ position: "absolute", left: 0, top: 0, width: 1270, height: 1049, overflow: "hidden", background: "#fff" }}>
      <MapLayer matrix={MAP_60S} ridges={RIDGES_60S} corner={[92, 426]} bottomLabels={true} />
      <MapLayer matrix={MAP_30S} ridges={RIDGES_30S} corner={[92, 324]} bottomLabels={false} />
      <MapLayer matrix={MAP_20S} ridges={RIDGES_20S} corner={[92, 222]} bottomLabels={false} />
      <MapLayer matrix={MAP_10S} ridges={RIDGES_10S} corner={[92, 119]} bottomLabels={false} />
      <div style={{ position: "absolute", left: 311, top: 317, width: 160, height: 200, background: "#fff" }} />

      <Panel top={350} height={225} plotTop={362} plotBottom={520} yMin={2.627} yMax={4.064} yTicks={[3, 3.5, 4]} yDigits={1}
        yTitle={"c\u2080 [km/s]"} yTitleOffset={29} mean={ISO_MEAN} dots={ISO_DOTS} tops={ISO_TOP} bottoms={ISO_BOTTOM}
        bands={ISO_BANDS} outer={ISO_OUTER} inner={ISO_INNER} />
      <Panel top={588} height={225} plotTop={600} plotBottom={757} yMin={-0.0198} yMax={0.0412} yTicks={[0, 0.02, 0.04]} yDigits={2}
        yTitle={"c\u2081"} yTitleOffset={18} mean={C1_MEAN} dots={C1_DOTS} tops={C1_TOP} bottoms={C1_BOTTOM}
        bands={C1_BANDS} outer={C1_OUTER} inner={C1_INNER} />
      <Panel top={825} height={224} plotTop={837} plotBottom={995} yMin={-0.0444} yMax={0.00915} yTicks={[-0.04, -0.02, 0]} yDigits={2}
        yTitle={"c\u2082"} yTitleOffset={2} mean={C2_MEAN} dots={C2_DOTS} tops={C2_TOP} bottoms={C2_BOTTOM}
        bands={C2_BANDS} outer={C2_OUTER} inner={C2_INNER} />
      {CLIPPED_MARKS_Y.map((y) => (
        <div key={y} style={{ position: "absolute", left: 879, top: y, width: 2, height: 2, background: "#555" }} />
      ))}

      <svg width={1270} height={1049} style={{ position: "absolute", left: 0, top: 0, pointerEvents: "none" }}>
        <line x1={78.5} y1={70} x2={78.5} y2={467} stroke="#000" strokeWidth={2} />
        <line x1={254.5} y1={123} x2={254.5} y2={438} stroke="#000" strokeWidth={5} />
        <path d="M522 122 Q372 136 288 216" fill="none" stroke="#000" strokeWidth={4.5} />
        <polygon points="273,237 286,209 302,223" fill="#000" />
        <line x1={175} y1={643} x2={370} y2={533} stroke="#000" strokeWidth={2.2} />
        <polygon points="386,524 362,523 375,546" fill="#000" />
        <polyline points="332,704 290,717 378,822" fill="none" stroke="#000" strokeWidth={2.2} />
        <polygon points="347,698 325,692 332,716" fill="#000" />
        <polygon points="386,832 363,823 382,807" fill="#000" />
      </svg>

      <div style={{ position: "absolute", left: 57, top: 4, width: 413, height: 72, boxSizing: "border-box", border: "6px solid #000", borderRadius: 2, background: "#fff" }} />
      {text("Phase-velocity maps.", 83, 40, 37.4)}
      {text("10s", 10, 102, 32)}
      {text("20s", 10, 223, 32)}
      {text("30s", 10, 319, 32)}
      {text("60s", 10, 425, 32)}
      {text("Vertical profile through phase-velocity maps", 540, 106, 37.45)}
      {centered("Isotropic and", 175, 677, 42.6)}
      {centered("anisotropic", 175, 725, 42.6)}
      {centered("components", 175, 772, 42.6)}
      {centered("at different", 175, 819, 42.6)}
      {centered("periods", 168, 872, 42.6)}
      {text("(a)", 414, 340, 29.5)}
      {text("(b)", 414, 578, 29.5)}
      {text("(c)", 414, 816, 29.5)}
      {text("c_iso", 425, 402, 37, { fontWeight: 700 })}
      {text("c1", 800, 633, 37, { fontWeight: 700 })}
      {text("c2", 785, 958, 37, { fontWeight: 700 })}
    </div>
  );
}
